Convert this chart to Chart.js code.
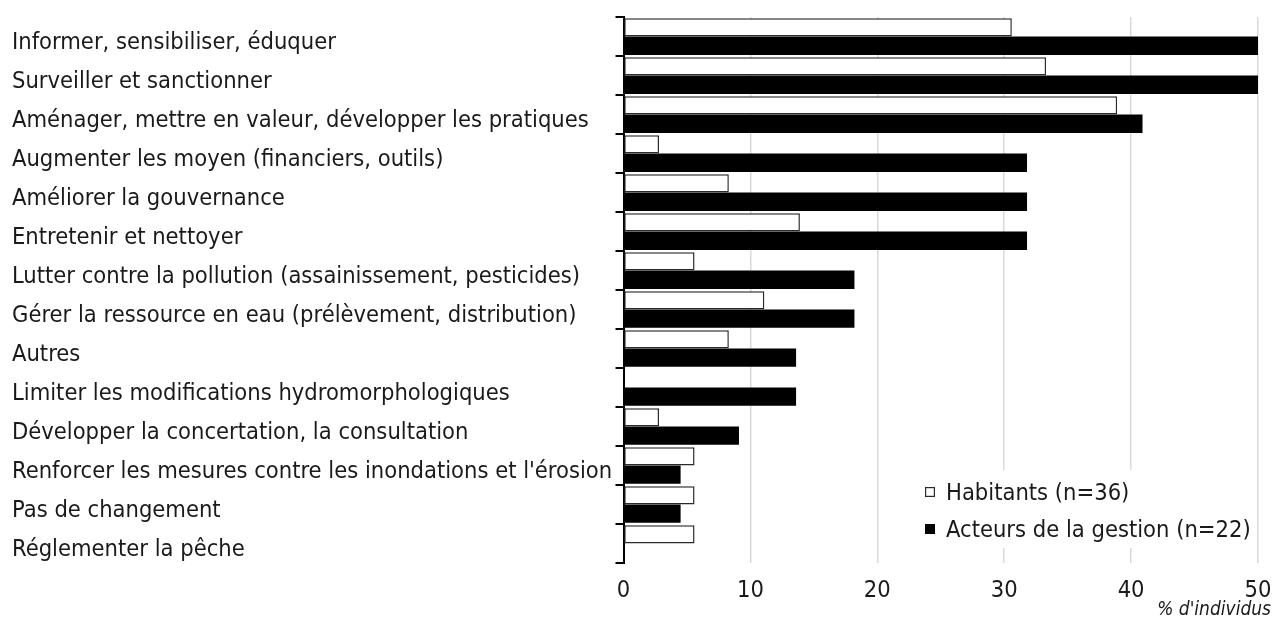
<!DOCTYPE html>
<html lang="fr">
<head>
<meta charset="utf-8">
<title>Actions souhaitées</title>
<script src="https://cdn.jsdelivr.net/npm/chart.js@4.4.1/dist/chart.umd.min.js"></script>
<style>
  html, body { margin: 0; padding: 0; background: #ffffff; }
  #wrap { width: 1272px; height: 622px; position: relative; }
</style>
</head>
<body>
<div id="wrap"><canvas id="chart" width="1272" height="622"></canvas></div>
<script>
// Categories, top to bottom
const categories = [
  "Informer, sensibiliser, éduquer",
  "Surveiller et sanctionner",
  "Aménager, mettre en valeur, développer les pratiques",
  "Augmenter les moyen (financiers, outils)",
  "Améliorer la gouvernance",
  "Entretenir et nettoyer",
  "Lutter contre la pollution (assainissement, pesticides)",
  "Gérer la ressource en eau (prélèvement, distribution)",
  "Autres",
  "Limiter les modifications hydromorphologiques",
  "Développer la concertation, la consultation",
  "Renforcer les mesures contre les inondations et l'érosion",
  "Pas de changement",
  "Réglementer la pêche"
];

// Share of respondents (%)
const habitants = [30.6, 33.3, 38.9, 2.8, 8.3, 13.9, 5.6, 11.1, 8.3, 0, 2.8, 5.6, 5.6, 5.6];
const acteurs   = [50.0, 50.0, 40.9, 31.8, 31.8, 31.8, 18.2, 18.2, 13.6, 13.6, 9.1, 4.5, 4.5, 0];

const seriesNames = ["Habitants (n=36)", "Acteurs de la gestion (n=22)"];
const xTickValues = [0, 10, 20, 30, 40, 50];
const xAxisTitle = "% d'individus";

const FONT = "'DejaVu Sans Condensed', 'DejaVu Sans', sans-serif";
const TEXT = "#1a1a1a";

// Legend drawn inside the plot area, lower right, on a white patch
const insideLegend = {
  id: "insideLegend",
  beforeDatasetsDraw(chart) {
    const { ctx, chartArea } = chart;
    const left = chartArea.right - 346;
    const top = chartArea.bottom - 93;
    ctx.save();
    ctx.fillStyle = "#ffffff";
    ctx.fillRect(left, top, 340, 78);
    ctx.font = "23.5px " + FONT;
    ctx.textBaseline = "middle";
    ctx.textAlign = "left";
    const rows = chart.data.datasets.map((ds, i) => ({
      label: ds.label,
      fill: ds.backgroundColor,
      stroke: ds.borderColor,
      cy: chartArea.bottom - 71 + i * 37
    }));
    rows.forEach(r => {
      const sx = left + 13, sy = r.cy - 5;
      ctx.fillStyle = r.fill;
      ctx.fillRect(sx, sy, 10, 10);
      ctx.strokeStyle = r.stroke;
      ctx.lineWidth = 1.2;
      ctx.strokeRect(sx + 0.6, sy + 0.6, 8.8, 8.8);
      ctx.fillStyle = TEXT;
      ctx.fillText(r.label, left + 34, r.cy + 1.5);
    });
    ctx.restore();
  }
};

// Italic axis caption under the right end of the value axis
const axisCaption = {
  id: "axisCaption",
  afterDraw(chart) {
    const { ctx } = chart;
    ctx.save();
    ctx.font = "italic 19px " + FONT;
    ctx.fillStyle = TEXT;
    ctx.textAlign = "right";
    ctx.textBaseline = "alphabetic";
    ctx.fillText(xAxisTitle, chart.width - 1, chart.height - 7);
    ctx.restore();
  }
};

new Chart(document.getElementById("chart"), {
  type: "bar",
  data: {
    labels: categories,
    datasets: [
      {
        label: seriesNames[0],
        data: habitants,
        backgroundColor: "#ffffff",
        borderColor: "#2b2b2b",
        borderWidth: 1.5,
        borderSkipped: false
      },
      {
        label: seriesNames[1],
        data: acteurs,
        backgroundColor: "#000000",
        borderColor: "#000000",
        borderWidth: 0
      }
    ]
  },
  options: {
    indexAxis: "y",
    responsive: false,
    animation: false,
    devicePixelRatio: 1,
    layout: { padding: { top: 15, right: 14, bottom: 0, left: 12 } },
    datasets: { bar: { categoryPercentage: 0.94, barPercentage: 1.0 } },
    plugins: {
      legend: { display: false },
      tooltip: { enabled: false },
      title: { display: false }
    },
    scales: {
      x: {
        type: "linear",
        position: "bottom",
        min: 0,
        max: 50,
        afterBuildTicks: s => { s.ticks = xTickValues.map(v => ({ value: v })); },
        afterFit: s => { s.height = 59; s.paddingLeft = 0; s.paddingRight = 0; },
        border: { display: false },
        grid: {
          drawTicks: false,
          lineWidth: 1.5,
          color: c => (c.tick && c.tick.value === 0) ? "rgba(0,0,0,0)" : "#d9d9d9"
        },
        ticks: {
          padding: 14,
          color: TEXT,
          font: { family: FONT, size: 23.5 }
        }
      },
      y: {
        type: "category",
        afterFit: s => { s.width = 611.5; },
        border: { display: true, color: "#000000", width: 2 },
        grid: {
          display: true,
          drawOnChartArea: false,
          drawTicks: true,
          tickLength: 8,
          color: "#000000",
          lineWidth: 2,
          offset: true
        },
        ticks: {
          crossAlign: "far",
          labelOffset: 6,
          color: TEXT,
          font: { family: FONT, size: 23.5 },
          autoSkip: false
        }
      }
    }
  },
  plugins: [insideLegend, axisCaption]
});
</script>
</body>
</html>
